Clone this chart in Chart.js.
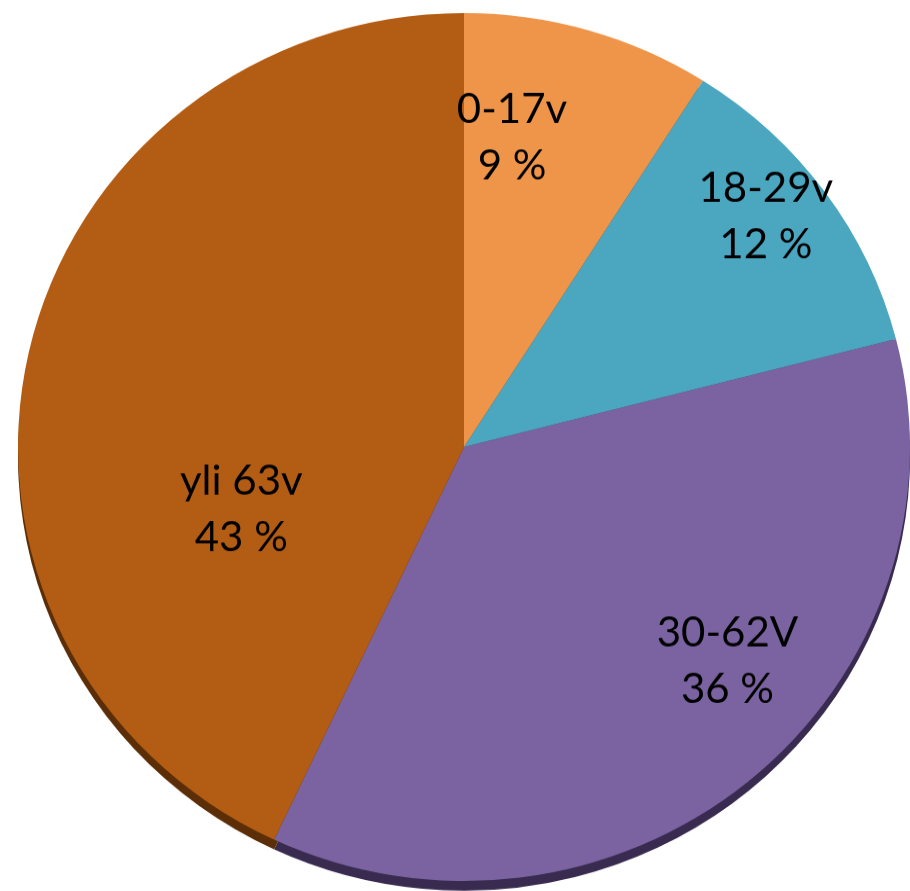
<!DOCTYPE html>
<html>
<head>
<meta charset="utf-8">
<script src="https://cdn.jsdelivr.net/npm/chart.js@4/dist/chart.umd.min.js"></script>
<style>
  html, body { margin: 0; padding: 0; background: #fff; overflow: hidden; }
  #wrap { position: absolute; left: 18px; top: 1px; width: 892px; height: 904px;
          transform-origin: 446px 446px; transform: scaleY(0.973); }
</style>
</head>
<body>
<div id="wrap"><canvas id="ageChart" width="892" height="904"></canvas></div>
<script>
// Ikäryhmät ja osuudet (%)
const categories = ["0-17v", "18-29v", "30-62V", "yli 63v"];
const shares = [9, 12, 36, 43];
const sliceColors = ["#EE954A", "#4BA6C0", "#7A63A0", "#B35C13"];
const rimColors = ["#8a5020", "#2c5d6c", "#382b4f", "#5c2e08"];
// label placement: angle (deg from top, clockwise) and radius fraction
const labelAngle = [8.6, 51.9, 129.9, 253.8];
const labelRadius = [0.72, 0.86, 0.77, 0.52];

// darker rim under the pie (pseudo 3D edge)
const rimPlugin = {
  id: "rim",
  beforeDatasetsDraw(chart) {
    const ctx = chart.ctx;
    ctx.save();
    chart.getDatasetMeta(0).data.forEach((arc, i) => {
      const p = arc.getProps(["x", "y", "startAngle", "endAngle", "outerRadius"], true);
      ctx.beginPath();
      ctx.moveTo(p.x, p.y + 10);
      ctx.arc(p.x, p.y + 10, p.outerRadius, p.startAngle, p.endAngle);
      ctx.closePath();
      ctx.fillStyle = rimColors[i];
      ctx.fill();
    });
    ctx.restore();
  }
};

const labelPlugin = {
  id: "sliceLabels",
  afterDatasetsDraw(chart) {
    const ctx = chart.ctx;
    ctx.save();
    ctx.font = "42px Lato, 'Open Sans', sans-serif";
    ctx.fillStyle = "#000";
    ctx.textAlign = "center";
    ctx.textBaseline = "middle";
    chart.getDatasetMeta(0).data.forEach((arc, i) => {
      const p = arc.getProps(["x", "y", "outerRadius"], true);
      const a = labelAngle[i] * Math.PI / 180;
      const r = p.outerRadius * labelRadius[i];
      const x = p.x + r * Math.sin(a);
      const y = p.y - r * Math.cos(a);
      ctx.fillText(categories[i], x, y - 29);
      ctx.fillText(shares[i] + " %", x, y + 29);
    });
    ctx.restore();
  }
};

new Chart(document.getElementById("ageChart").getContext("2d"), {
  type: "pie",
  data: {
    labels: categories,
    datasets: [{
      data: shares,
      backgroundColor: sliceColors,
      borderWidth: 0
    }]
  },
  options: {
    responsive: false,
    animation: false,
    layout: { padding: { top: 0, left: 0, right: 0, bottom: 12 } },
    plugins: {
      legend: { display: false },
      tooltip: { enabled: false }
    }
  },
  plugins: [rimPlugin, labelPlugin]
});
</script>
</body>
</html>
